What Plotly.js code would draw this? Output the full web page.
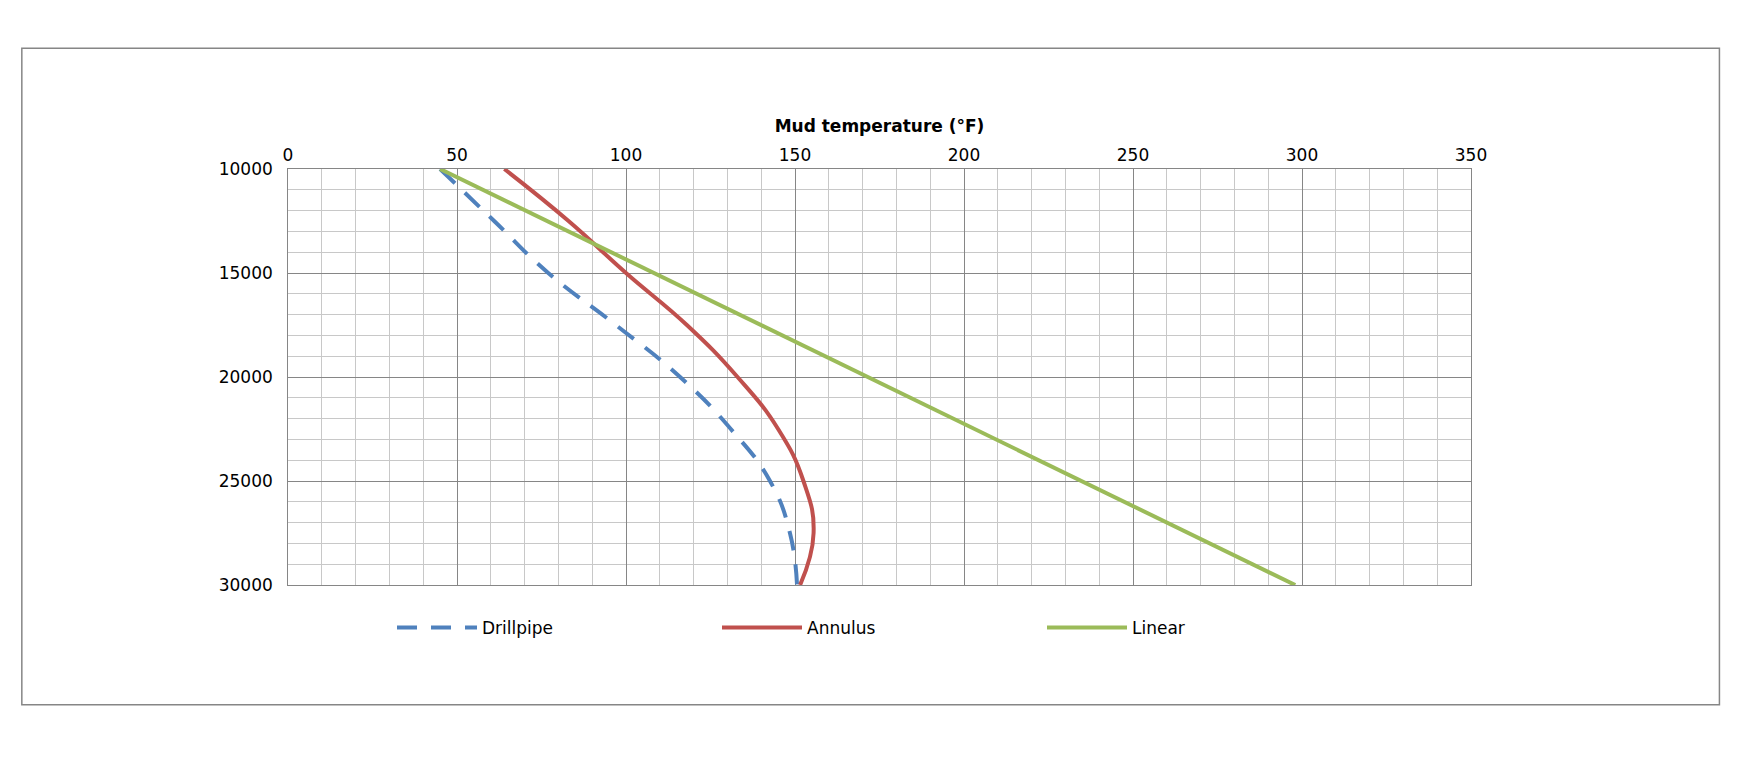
<!DOCTYPE html>
<html><head><meta charset="utf-8">
<script src="https://cdn.plot.ly/plotly-3.0.1.min.js"></script>
<style>body{margin:0}</style></head>
<body><div id="chart" style="width:1742px;height:769px"></div>
<script>
var depth = [10000, 12500, 15000, 17500, 20000, 22500, 25000, 27500, 30000];
var drillpipe = [45, 61, 77, 97, 116, 131, 142.6, 148.5, 150.6];
var annulus = [64, 83, 100, 118, 133, 145, 152.5, 155.5, 151.5];
var linearDepth = [10000, 30000];
var linear = [45, 298];

var data = [
  {x: drillpipe, y: depth, name: 'Drillpipe', mode: 'lines', line: {color: '#4f81bd', width: 4, dash: '20px,14px', shape: 'spline', smoothing: 1.3}},
  {x: annulus, y: depth, name: 'Annulus', mode: 'lines', line: {color: '#c0504d', width: 4, shape: 'spline', smoothing: 1.3}},
  {x: linear, y: linearDepth, name: 'Linear', mode: 'lines', line: {color: '#9bbb59', width: 4}}
];

var layout = {
  width: 1742, height: 769,
  margin: {l: 288, r: 271, t: 169, b: 184},
  font: {family: 'DejaVu Sans', size: 17, color: '#000'},
  showlegend: true,
  legend: {orientation: 'h', x: 0.5, xanchor: 'center', y: -0.06, yanchor: 'top', font: {size: 17}, itemwidth: 80, entrywidth: 230},
  xaxis: {
    side: 'top', range: [0, 350], dtick: 50, ticks: '', showgrid: true, gridcolor: '#868686',
    minor: {dtick: 10, showgrid: true, gridcolor: '#c8c8c8'},
    zeroline: false, showline: true, linecolor: '#868686', mirror: true,
    title: {text: '<b>Mud temperature (°F)</b>', font: {size: 17}, standoff: 8}
  },
  yaxis: {
    range: [30000, 10000], dtick: 5000, tickformat: 'd', ticks: '', showgrid: true, gridcolor: '#868686',
    minor: {dtick: 1000, showgrid: true, gridcolor: '#c8c8c8'},
    zeroline: false, showline: true, linecolor: '#868686', mirror: true, ticksuffix: '  '
  },
  shapes: [{type: 'rect', xref: 'paper', yref: 'paper', x0: -0.225, x1: 1.21, y0: -0.288, y1: 1.29, line: {color: '#868686', width: 1.5}}]
};

Plotly.newPlot('chart', data, layout, {displayModeBar: false});
</script></body></html>
